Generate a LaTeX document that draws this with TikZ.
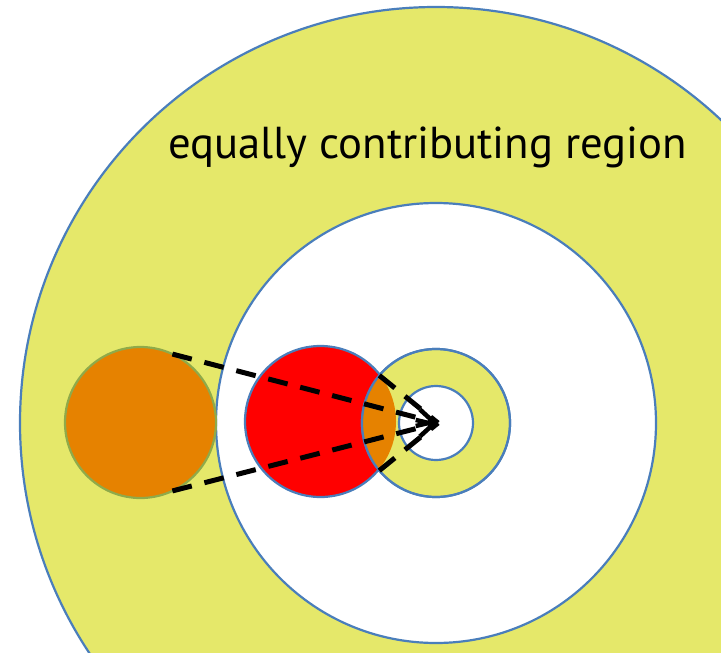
\documentclass[tikz,border=0pt]{standalone}
\usepackage{fontspec}
\setmainfont{PT Sans}
\usetikzlibrary{arrows.meta}
\definecolor{yel}{HTML}{E5E86A}
\definecolor{bord}{HTML}{4A7EBB}
\definecolor{redf}{HTML}{FF0000}
\definecolor{orf}{HTML}{E68200}
\definecolor{olivebd}{HTML}{8FAA4A}
\begin{document}
\begin{tikzpicture}[x=1pt,y=-1pt,
  disc/.style={circle,inner sep=0pt,outer sep=0pt,draw=bord,line width=2.2pt},
  dashline/.style={black,line width=5pt,dash pattern=on 20pt off 13pt},
  headed/.style={-{Straight Barb[length=16pt,width=17pt,line width=4.5pt]}}]
\useasboundingbox (0,0) rectangle (721,653);
\clip (0,0) rectangle (721,653);
\node[disc,fill=yel,minimum size=832pt] (big) at (436,423) {};
\node[disc,fill=white,minimum size=440pt] (mid) at (436,423) {};
\node[disc,fill=redf,minimum size=151pt] (red) at (320.5,421.5) {};
\node[disc,draw=olivebd,fill=orf,minimum size=151pt] (orange) at (140.5,422.5) {};
\node[disc,fill=yel,minimum size=148pt] (ring) at (436,423) {};
\begin{scope}
  \clip (320.5,421.5) circle [radius=75.5pt];
  \fill[orf] (436,423) circle [radius=74pt];
\end{scope}
\draw[bord,line width=2.2pt] (436,423) circle [radius=74pt];
\node[disc,fill=white,minimum size=74pt] (hole) at (436,423) {};
\coordinate (tip) at (438,423);
\draw[dashline] (ring.140) -- (tip);
\draw[dashline] (ring.220) -- (tip);
\draw[dashline,headed] (orange.-65) -- (tip);
\draw[dashline,headed] (orange.65) -- (tip);
\node[font=\fontsize{44.7}{52}\selectfont,anchor=base,inner sep=0pt] (label) at (427.5,158) {equally contributing region};
\end{tikzpicture}
\end{document}
